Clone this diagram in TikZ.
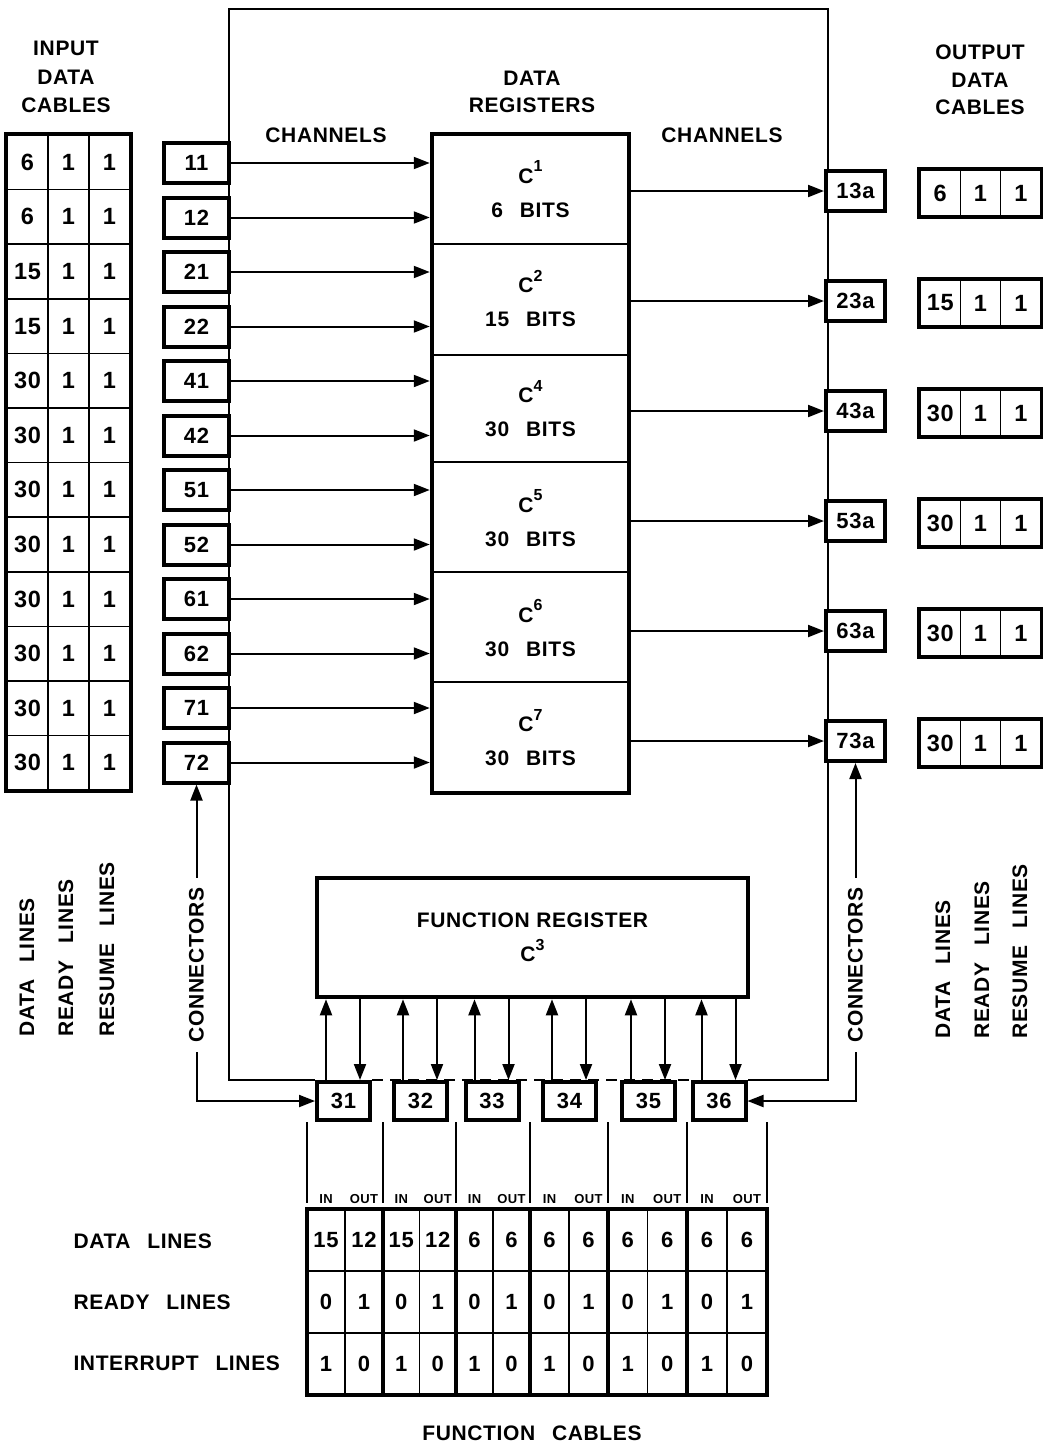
\documentclass[tikz,border=0pt]{standalone}
\usepackage{fontspec}
\setmainfont{Liberation Sans}[LetterSpace=3]
\usetikzlibrary{arrows.meta,backgrounds}
\newcommand\lblfont{\fontsize{21}{24}\selectfont\bfseries}
\newcommand\numfont{\fontsize{22}{24}\selectfont\bfseries}
\newcommand\bignumfont{\fontsize{23.5}{26}\selectfont\bfseries}
\newcommand\smallfnt{\fontsize{13}{15}\selectfont\bfseries}
\newcommand\wgap{\hspace{0.8em}}
\newcommand\supr[1]{\raisebox{0.55em}{\fontsize{16}{16}\selectfont #1}}
\begin{document}
\begin{tikzpicture}[x=1pt,y=-1pt,
  every node/.style={font=\lblfont},
  >={Triangle[length=16pt,width=12pt]},
  bx/.style={draw,line width=4pt,fill=white,inner sep=0pt,minimum width=65pt,minimum height=40pt,font=\numfont},
  obx/.style={bx,minimum width=59pt},
  fbx/.style={bx,minimum width=53pt,minimum height=38pt},
  cell/.style={draw,line width=1.6pt,fill=white,inner sep=0pt,font=\numfont},
  bcell/.style={cell,font=\bignumfont},
  hv/.style={line width=4pt},
  fn/.style={line width=1.6pt},
  arr/.style={line width=2pt,->},
  bus/.style={line width=2pt},
  vlab/.style={rotate=90,anchor=west},
  conn/.style={rotate=90,fill=white,inner xsep=10pt,inner ysep=1pt},
]
\useasboundingbox (0,0) rectangle (1042,1448);

% ---------- headings ----------
\node[align=center,font=\fontsize{21}{28.5}\selectfont\bfseries] (hin) at (66,77) {INPUT\\DATA\\CABLES};
\node[align=center,font=\fontsize{21}{27.5}\selectfont\bfseries] (hout) at (980,80) {OUTPUT\\DATA\\CABLES};
\node[align=center,font=\fontsize{21}{27}\selectfont\bfseries] (hreg) at (532,92) {DATA\\REGISTERS};
\node (chl) at (326,135) {CHANNELS};
\node (chr) at (722,135) {CHANNELS};

% ---------- input data cable table ----------
\foreach \v [count=\k from 0] in {6,6,15,15,30,30,30,30,30,30,30,30} {
  \node[bcell,minimum width=41pt,minimum height=54.6pt] (ta\k) at (27.5,162.3+54.6*\k) {\v};
  \node[bcell,minimum width=41pt,minimum height=54.6pt] (tb\k) at (68.5,162.3+54.6*\k) {1};
  \node[bcell,minimum width=41pt,minimum height=54.6pt] (tc\k) at (109.5,162.3+54.6*\k) {1};
}
\draw[hv] (ta0.north west) rectangle (tc11.south east);

% ---------- input channel boxes ----------
\foreach \n [count=\k from 0] in {11,12,21,22,41,42,51,52,61,62,71,72}
  \node[bx] (i\n) at (196.5,163+54.5*\k) {\n};

% ---------- data registers ----------
\node[draw,line width=4.5pt,fill=white,inner sep=0pt,minimum width=197pt,minimum height=659pt] (reg) at (530.5,463.5) {};
\foreach \y in {244,355,462,572,682}
  \draw[fn] (432,\y) -- (629,\y);
\foreach \c/\b [count=\k from 0] in {1/6,2/15,4/30,5/30,6/30,7/30}
  \node[align=center,font=\fontsize{21}{34}\selectfont\bfseries] (rt\c) at (530.5,189+109.7*\k) {C\supr{\c}\\\b\wgap BITS};

\foreach \n in {11,12,21,22,41,42,51,52,61,62,71,72}
  \draw[arr] (i\n.east) -- (i\n.east -| reg.west);

% ---------- output channel boxes and tables ----------
\foreach \n/\v [count=\k from 0] in {13a/6,23a/15,43a/30,53a/30,63a/30,73a/30} {
  \node[obx] (o\n) at (855.5,191+110*\k) {\n};
  \node[bcell,minimum width=40.3pt,minimum height=47pt] (oa\k) at (940.2,193+110*\k) {\v};
  \node[bcell,minimum width=40.3pt,minimum height=47pt] (ob\k) at (980.5,193+110*\k) {1};
  \node[bcell,minimum width=40.3pt,minimum height=47pt] (oc\k) at (1020.8,193+110*\k) {1};
  \draw[hv] (oa\k.north west) rectangle (oc\k.south east);
  \draw[arr] (o\n.west -| reg.east) -- (o\n.west);
}

% ---------- function register ----------
\node[draw,line width=4.5pt,fill=white,inner sep=0pt,minimum width=431pt,minimum height=119pt,align=center,font=\fontsize{21}{34}\selectfont\bfseries] (fr) at (532.5,937.5) {FUNCTION REGISTER\\C\supr{3}};

\foreach \n/\x in {31/343.5,32/420.5,33/492,34/569.5,35/648.5,36/719}
  \node[fbx] (f\n) at (\x,1101) {\n};

\foreach \n in {31,32,33,34,35,36} {
  \path (f\n.north west) ++(11,0) coordinate (u\n);
  \path (f\n.north east) ++(-12,0) coordinate (d\n);
  \draw[arr] (u\n) -- (u\n |- fr.south);
  \draw[arr] (d\n |- fr.south) -- (d\n);
}

% ---------- bus loop ----------
\coordinate (tl) at (229,9);
\coordinate (tr) at (828,9);
\begin{scope}[on background layer]
  \draw[bus] (f31.north west) -| (tl) -- (tr) |- (f36.north east);
  \draw[bus,dash pattern=on 11pt off 7pt] (f31.north east) -- (f36.north west);
\end{scope}

% ---------- connectors ----------
\draw[line width=2pt,<->] (i72.south) |- (f31.west);
\node[conn] (cl) at (196.5,965) {CONNECTORS};
\draw[line width=2pt,<->] (o73a.south) |- (f36.east);
\node[conn] (cr) at (855.5,965) {CONNECTORS};

% ---------- vertical line labels ----------
\node[vlab] (ldl) at (27,1040) {DATA\wgap LINES};
\node[vlab] (lrl) at (66,1040) {READY\wgap LINES};
\node[vlab] (lsl) at (107,1040) {RESUME\wgap LINES};
\node[vlab] (rdl) at (943,1042) {DATA\wgap LINES};
\node[vlab] (rrl) at (982,1042) {READY\wgap LINES};
\node[vlab] (rsl) at (1020,1042) {RESUME\wgap LINES};

% ---------- function cables table ----------
\foreach \L/\R/\a/\b [count=\g] in {307/383/15/12,383/456/15/12,456/530/6/6,530/608/6/6,608/687/6/6,687/767/6/6} {
  \pgfmathsetmacro\M{(\L+\R)/2}
  \pgfmathsetmacro\wa{\M-\L}
  \pgfmathsetmacro\ca{(\L+\M)/2}
  \pgfmathsetmacro\cb{(\M+\R)/2}
  \node[cell,minimum width=\wa,minimum height=62pt] (d\g a) at (\ca,1240) {\a};
  \node[cell,minimum width=\wa,minimum height=62pt] (d\g b) at (\cb,1240) {\b};
  \node[cell,minimum width=\wa,minimum height=62pt] (r\g a) at (\ca,1302) {0};
  \node[cell,minimum width=\wa,minimum height=62pt] (r\g b) at (\cb,1302) {1};
  \node[cell,minimum width=\wa,minimum height=62pt] (n\g a) at (\ca,1364) {1};
  \node[cell,minimum width=\wa,minimum height=62pt] (n\g b) at (\cb,1364) {0};
  \node[font=\smallfnt] (in\g) at (\ca,1199) {IN};
  \node[font=\smallfnt] (out\g) at (\cb,1199) {OUT};
}
\foreach \x in {307,383,456,530,608,687,767} {
  \draw[hv] (\x,1209) -- (\x,1395);
  \draw[fn] (\x,1122) -- (\x,1203);
}
\draw[hv] (307,1209) rectangle (767,1395);

\node[anchor=west] (rowd) at (70,1241) {DATA\wgap LINES};
\node[anchor=west] (rowr) at (70,1302) {READY\wgap LINES};
\node[anchor=west] (rowi) at (70,1363) {INTERRUPT\wgap LINES};
\node (fcab) at (532,1433) {FUNCTION\wgap CABLES};
\end{tikzpicture}
\end{document}
